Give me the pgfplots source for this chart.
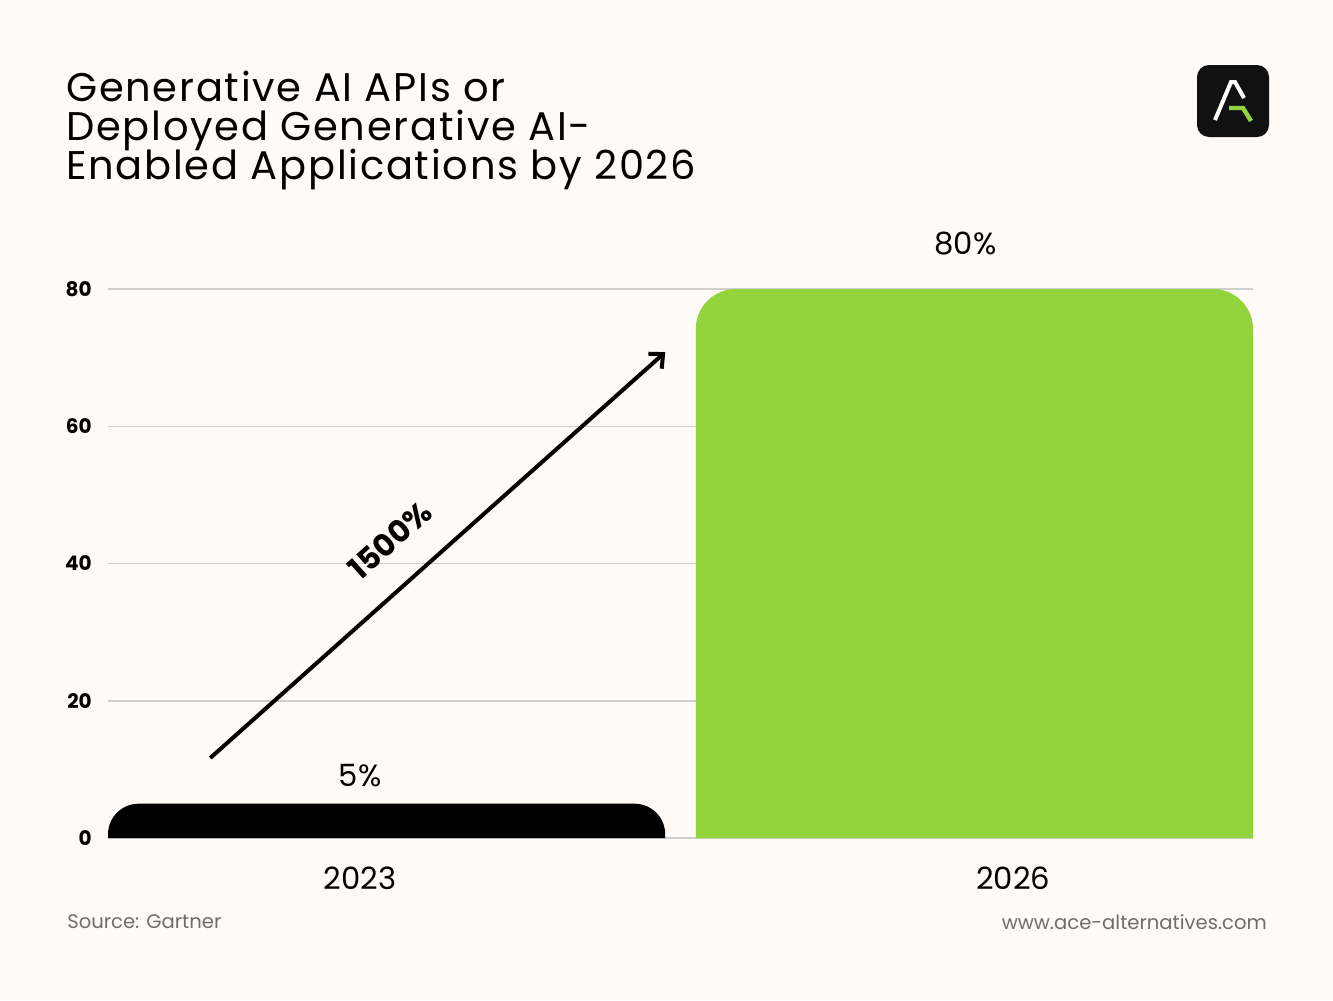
\documentclass[border=0pt]{standalone}
\usepackage{pgfplots}
\pgfplotsset{compat=1.18}
\usepackage{fontspec}
\setmainfont{Poppins}
\newfontfamily\titlefont[LetterSpace=4.3]{Poppins}
\usetikzlibrary{arrows.meta}
\definecolor{bg}{HTML}{FDFAF8}
\definecolor{barg}{HTML}{92D43B}
\definecolor{gridc}{HTML}{CFCFCF}
\definecolor{srcc}{HTML}{6E6E6E}
\definecolor{logobg}{HTML}{111111}
\begin{document}
\begin{tikzpicture}[x=0.75pt,y=-0.75pt]
\fill[bg] (0,0) rectangle (1333,1000);
% title
\node[anchor=base west, font=\titlefont\fontsize{30}{30}\selectfont, inner sep=0] at (66,101) {Generative AI APIs or};
\node[anchor=base west, font=\titlefont\fontsize{30}{30}\selectfont, inner sep=0] at (66,140) {Deployed Generative AI-};
\node[anchor=base west, font=\titlefont\fontsize{30}{30}\selectfont, inner sep=0] at (66,179) {Enabled Applications by 2026};
% logo
\fill[logobg, rounded corners=9pt] (1197,65) rectangle (1269,137);
\draw[white, line width=3pt, line join=miter] (1215,120) -- (1231,82) -- (1235,82) -- (1244,98);
\draw[barg, line width=3.3pt, line join=miter] (1229,108) -- (1243,108) -- (1251,121);
\begin{axis}[
  at={(81pt,-628.5pt)}, anchor=south west,
  scale only axis, width=858.75pt, height=411.75pt,
  xmin=-0.474, xmax=1.474, ymin=0, ymax=80,
  axis line style={draw=none},
  ytick={0,20,40,60,80}, xtick=\empty,
  ymajorgrids, major grid style={gridc, line width=1.1pt},
  tick style={draw=none},
  yticklabel style={font=\bfseries\fontsize{15}{15}\selectfont, anchor=east, inner sep=0pt, xshift=-12pt},
  /pgf/number format/assume math mode=true,
  clip=false,
]
\addplot[fill=black, draw=none, rounded corners=23pt] coordinates {(-0.474,0) (-0.474,5) (0.474,5) (0.474,0)};
\addplot[fill=barg, draw=none, rounded corners=30pt] coordinates {(0.526,0) (0.526,80) (1.474,80) (1.474,0)};
\draw[line width=3pt, -{Straight Barb[length=8pt, width=15pt, line width=3pt]}] (axis cs:-0.300,11.66) -- (axis cs:0.474,70.8);
\node[rotate=41.7, font=\bfseries\fontsize{23}{23}\selectfont] at (axis cs:0.006,43.4) {1500\%};
\node[font=\fontsize{23}{23}\selectfont] at (axis cs:-0.045,9.03) {5\%};
\node[font=\fontsize{23}{23}\selectfont] at (axis cs:0.985,86.56) {80\%};
\node[font=\fontsize{23}{23}\selectfont] at (axis cs:-0.045,-5.83) {2023};
\node[font=\fontsize{23}{23}\selectfont] at (axis cs:1.066,-5.83) {2026};
\end{axis}
\node[anchor=west, text=srcc, font=\fontsize{14.7}{14.7}\selectfont, inner sep=0] at (67,922) {Source: Gartner};
\node[anchor=east, text=srcc, font=\fontsize{14.7}{14.7}\selectfont, inner sep=0] at (1267,922) {www.ace-alternatives.com};
\pgfresetboundingbox
\path[use as bounding box] (0,0) rectangle (1333,1000);
\end{tikzpicture}
\end{document}
